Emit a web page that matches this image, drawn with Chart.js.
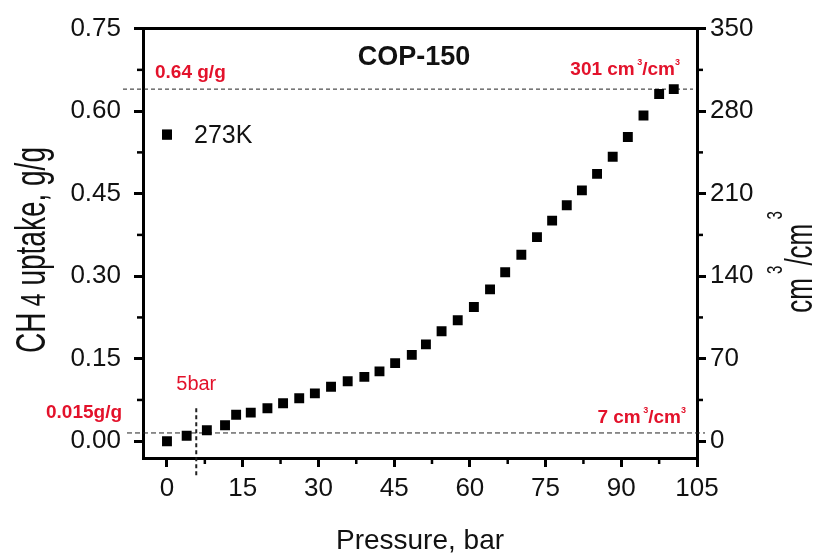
<!DOCTYPE html>
<html><head><meta charset="utf-8">
<script src="https://cdn.jsdelivr.net/npm/chart.js@4.4.0/dist/chart.umd.min.js"></script>
<style>html,body{margin:0;padding:0;background:#fff;}#wrap{width:816px;height:558px;position:relative;}</style>
</head><body><div id="wrap"><canvas id="c" width="816" height="558"></canvas></div>
<script>
// ---- data ----
const pressure = [0, 3.9, 7.9, 11.5, 13.7, 16.6, 19.9, 23.0, 26.2, 29.3, 32.5, 35.8, 39.1, 42.1, 45.2, 48.5, 51.3, 54.4, 57.6, 60.8, 64.0, 67.0, 70.2, 73.3, 76.3, 79.2, 82.2, 85.2, 88.3, 91.3, 94.4, 97.5, 100.4];
const uptake = [0.000, 0.010, 0.020, 0.029, 0.048, 0.052, 0.060, 0.069, 0.078, 0.087, 0.099, 0.109, 0.117, 0.127, 0.142, 0.157, 0.176, 0.200, 0.220, 0.244, 0.276, 0.307, 0.339, 0.371, 0.401, 0.429, 0.456, 0.486, 0.517, 0.553, 0.592, 0.631, 0.640];
const seriesLabel = '273K';
const chartTitle = 'COP-150';
const xTickValues = [0, 15, 30, 45, 60, 75, 90, 105];
const leftTickValues = [0, 0.15, 0.30, 0.45, 0.60, 0.75];
const rightTickValues = [0, 70, 140, 210, 280, 350];
const refHighUptake = 0.64;   // 0.64 g/g
const refLowUptake = 0.015;   // 0.015 g/g
const refPressure = 5.8;      // "5bar" marker line as drawn
const refPressureLabel = '5bar';
const refHighVol = 301, refLowVol = 7;
const volPerGram = 350 / 0.75;

const xMin = -4.75, xMax = 105;
const yMin = -0.0305, yMax = 0.75;

const RED = '#e3122b';
const TXT = '#111';

function drawPieces(ctx, x, y, pieces, align) {
  let total = 0;
  const w = pieces.map(p => { ctx.font = p.font; const m = ctx.measureText(p.text).width; total += m; return m; });
  let cx = align === 'center' ? x - total / 2 : (align === 'right' ? x - total : x);
  pieces.forEach((p, i) => { ctx.font = p.font; ctx.fillStyle = p.color; ctx.fillText(p.text, cx, y - (p.rise || 0)); cx += w[i]; });
}
function drawRotated(ctx, baseX, centerY, stretch, pieces) {
  ctx.save();
  ctx.translate(baseX, centerY);
  ctx.rotate(-Math.PI / 2);
  ctx.scale(1, stretch);
  ctx.textBaseline = 'alphabetic';
  drawPieces(ctx, 0, 0, pieces, 'center');
  ctx.restore();
}

const decor = {
  id: 'decor',
  beforeDatasetsDraw(chart) {
    const {ctx, chartArea: a, scales: {x, y}} = chart;
    ctx.save();
    ctx.strokeStyle = '#222';
    ctx.lineWidth = 1; ctx.setLineDash([4, 3]);
    let py = y.getPixelForValue(refHighUptake);
    ctx.beginPath(); ctx.moveTo(a.left - 20, py); ctx.lineTo(a.right - 4, py); ctx.stroke();
    ctx.setLineDash([5, 3]);
    py = y.getPixelForValue(refLowUptake);
    ctx.beginPath(); ctx.moveTo(a.left - 16, py); ctx.lineTo(a.right + 8, py); ctx.stroke();
    ctx.lineWidth = 2; ctx.setLineDash([4, 3]);
    const px = x.getPixelForValue(refPressure);
    ctx.beginPath(); ctx.moveTo(px, y.getPixelForValue(0.06)); ctx.lineTo(px, a.bottom + 19); ctx.stroke();
    ctx.restore();
  },
  afterDraw(chart) {
    const {ctx, chartArea: a, scales: {x, y, y2}} = chart;
    ctx.save();
    ctx.setLineDash([]);
    ctx.strokeStyle = '#000'; ctx.lineWidth = 3;
    ctx.beginPath(); ctx.moveTo(a.left - 1.5, a.top); ctx.lineTo(a.right + 1.5, a.top); ctx.stroke();
    ctx.lineWidth = 2.5;
    for (let i = 0; i < xTickValues.length - 1; i++) {
      const v = (xTickValues[i] + xTickValues[i + 1]) / 2, p = x.getPixelForValue(v);
      ctx.beginPath(); ctx.moveTo(p, a.bottom); ctx.lineTo(p, a.bottom + 6); ctx.stroke();
    }
    for (let i = 0; i < leftTickValues.length - 1; i++) {
      const v = (leftTickValues[i] + leftTickValues[i + 1]) / 2, p = y.getPixelForValue(v);
      ctx.beginPath(); ctx.moveTo(a.left, p); ctx.lineTo(a.left - 6, p); ctx.stroke();
    }
    for (let i = 0; i < rightTickValues.length - 1; i++) {
      const v = (rightTickValues[i] + rightTickValues[i + 1]) / 2, p = y2.getPixelForValue(v);
      ctx.beginPath(); ctx.moveTo(a.right, p); ctx.lineTo(a.right + 6, p); ctx.stroke();
    }
    ctx.textBaseline = 'alphabetic';
    ctx.textAlign = 'left';
    drawPieces(ctx, (a.left + a.right) / 2 - 6, a.top + 36, [{text: chartTitle, font: 'bold 27px "Liberation Sans", Arial, sans-serif', color: TXT}], 'center');
    const ds = chart.data.datasets[0];
    ctx.fillStyle = '#000';
    Chart.helpers.drawPoint(ctx, {pointStyle: 'rect', radius: 7, borderWidth: 0, rotation: 0}, a.left + 24, a.top + 106);
    ctx.fill();
    drawPieces(ctx, a.left + 51, a.top + 114, [{text: ds.label, font: '25px "Liberation Sans", Arial, sans-serif', color: TXT}], 'left');
    const bRed = 'bold 19px "Liberation Sans", Arial, sans-serif';
    const sRed = 'bold 9px "Liberation Sans", Arial, sans-serif';
    const yHi = y.getPixelForValue(refHighUptake), yLo = y.getPixelForValue(refLowUptake);
    drawPieces(ctx, a.left + 12, yHi - 11, [{text: refHighUptake.toFixed(2) + ' g/g', font: bRed, color: RED}], 'left');
    drawPieces(ctx, a.right - 17, yHi - 14, [
      {text: refHighVol + ' cm', font: bRed, color: RED},
      {text: ' 3', font: sRed, color: RED, rise: 10},
      {text: '/cm', font: bRed, color: RED},
      {text: '3', font: sRed, color: RED, rise: 10}], 'right');
    drawPieces(ctx, a.left - 97, yLo - 15, [{text: refLowUptake + 'g/g', font: bRed, color: RED}], 'left');
    drawPieces(ctx, a.right - 11, yLo - 10, [
      {text: refLowVol + ' cm', font: bRed, color: RED},
      {text: ' 3', font: sRed, color: RED, rise: 10},
      {text: '/cm', font: bRed, color: RED},
      {text: '3', font: sRed, color: RED, rise: 10}], 'right');
    drawPieces(ctx, x.getPixelForValue(refPressure) - 20, yLo - 43, [{text: refPressureLabel, font: '20px "Liberation Sans", Arial, sans-serif', color: RED}], 'left');
    const F = (s) => s + 'px "Liberation Sans", Arial, sans-serif';
    drawRotated(ctx, 45, 250, 1.5, [
      {text: 'CH', font: F(28), color: TXT},
      {text: ' 4', font: F(23), color: TXT},
      {text: ' uptake, g/g', font: F(28), color: TXT}]);
    drawRotated(ctx, 812, 262, 1.5, [
      {text: 'cm', font: F(26), color: TXT},
      {text: ' 3', font: F(15), color: TXT, rise: 20},
      {text: '/cm', font: F(26), color: TXT},
      {text: ' 3', font: F(15), color: TXT, rise: 20}]);
    ctx.restore();
  }
};

const tickFont = {family: '"Liberation Sans", Arial, sans-serif', size: 26};
const axisCommon = {
  grid: {drawOnChartArea: false, tickLength: 9, tickWidth: 3, tickColor: '#000', lineWidth: 3, color: '#000'},
  border: {display: true, width: 3, color: '#000'}
};

new Chart(document.getElementById('c'), {
  type: 'scatter',
  data: {
    datasets: [{
      label: seriesLabel,
      data: pressure.map((p, i) => ({x: p, y: uptake[i]})),
      pointStyle: 'rect',
      pointRadius: 7,
      pointBackgroundColor: '#000',
      pointBorderColor: '#000',
      pointBorderWidth: 0,
      showLine: false,
      yAxisID: 'y'
    }]
  },
  options: {
    responsive: false,
    animation: false,
    devicePixelRatio: 1,
    layout: {padding: {top: 23, left: 0, right: 0, bottom: 0}},
    plugins: {legend: {display: false}, tooltip: {enabled: false}, title: {display: false}},
    scales: {
      x: {
        type: 'linear', position: 'bottom', min: xMin, max: xMax,
        ticks: {stepSize: 15, includeBounds: false, font: tickFont, color: TXT, padding: 6, callback: v => String(v)},
        title: {display: true, text: 'Pressure, bar', font: {family: '"Liberation Sans", Arial, sans-serif', size: 28}, color: TXT, padding: {top: 0, bottom: 0}},
        afterFit: s => { s.height = 100; },
        ...axisCommon
      },
      y: {
        type: 'linear', position: 'left', min: yMin, max: yMax,
        ticks: {stepSize: 0.15, includeBounds: false, font: tickFont, color: TXT, padding: 13, callback: v => Number(v).toFixed(2)},
        afterFit: s => { s.width = 143; },
        ...axisCommon
      },
      y2: {
        type: 'linear', position: 'right', min: yMin * volPerGram, max: yMax * volPerGram,
        ticks: {stepSize: 70, includeBounds: false, font: tickFont, color: TXT, padding: 4, callback: v => String(Math.round(v))},
        afterFit: s => { s.width = 119; },
        ...axisCommon
      }
    }
  },
  plugins: [decor]
});
</script></body></html>
